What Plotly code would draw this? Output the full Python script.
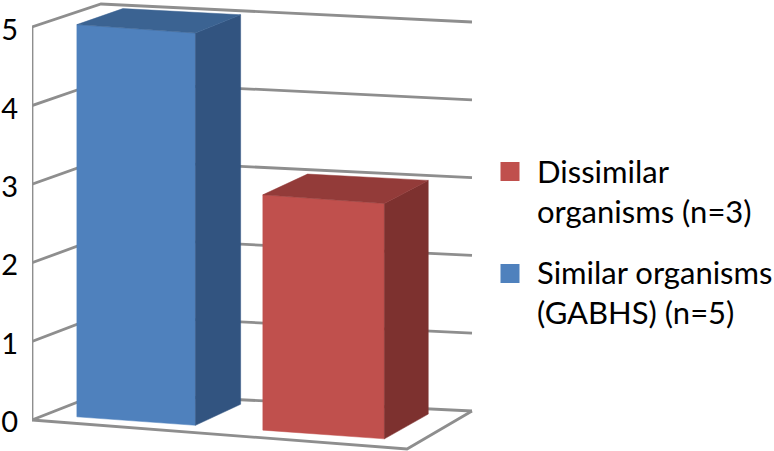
import plotly.graph_objects as go

# --- data ---
series_names = ["Similar organisms (GABHS) (n=5)", "Dissimilar organisms (n=3)"]
series_values = [5, 3]
legend_labels = ["Dissimilar<br>organisms (n=3)", "Similar organisms<br>(GABHS) (n=5)"]
tick_values = [0, 1, 2, 3, 4, 5]
front_colors = ["#4F81BD", "#C0504D"]
side_colors = ["#325480", "#7D312F"]
top_colors = ["#3B6392", "#933B39"]
grid_color = "#8E8E8E"
font = "Lato, Carlito, Calibri, sans-serif"

# --- oblique projection of the floor plane, depth u (across) / v (front to back) ---
F0, F1, B0, B1 = (32, 420), (407, 449), (101, 393), (472, 411)
UNIT = 78.4
bar_u = [(0.083, 0.40), (0.58, 0.905)]
bar_v = (0.2, 0.87)


def project(u, v, z):
    fx, fy = F0[0] + u * (F1[0] - F0[0]), F0[1] + u * (F1[1] - F0[1])
    bx, by = B0[0] + u * (B1[0] - B0[0]), B0[1] + u * (B1[1] - B0[1])
    x = fx + v * (bx - fx)
    floor = fy + v * (by - fy)
    scale = 78.6 - 0.8 * v
    # y is returned in value units, matching the value axis
    return x, (F0[1] - floor + z * scale) / UNIT


def path(points):
    xy = [project(*p) for p in points]
    return [p[0] for p in xy], [p[1] for p in xy]


fig = go.Figure()


def grid(points):
    x, y = path(points)
    fig.add_trace(go.Scatter(x=x, y=y, mode="lines", hoverinfo="skip", showlegend=False,
                             line=dict(color=grid_color, width=2.8)))


for z in tick_values:
    grid([(0, 0, z), (0, 1, z), (1, 1, z)])
grid([(0, 0, 0), (0, 0, tick_values[-1])])
grid([(0, 0, 0), (1, 0, 0), (1, 1, 0)])


def face(points, color, name):
    x, y = path(points)
    fig.add_trace(go.Scatter(x=x, y=y, mode="lines", fill="toself", fillcolor=color, name=name,
                             line=dict(width=0.5, color=color), showlegend=False))


for i, val in enumerate(series_values):
    u0, u1 = bar_u[i]
    v0, v1 = bar_v
    name = series_names[i]
    face([(u0, v0, 0), (u1, v0, 0), (u1, v0, val), (u0, v0, val), (u0, v0, 0)], front_colors[i], name)
    face([(u1, v0, 0), (u1, v1, 0), (u1, v1, val), (u1, v0, val), (u1, v0, 0)], side_colors[i], name)
    face([(u0, v0, val), (u1, v0, val), (u1, v1, val), (u0, v1, val), (u0, v0, val)], top_colors[i], name)

# --- legend (swatch level with the first text line, as in the original) ---
legend_swatch_x = 510
legend_swatch_y = [(F0[1] - 171.5) / UNIT, (F0[1] - 273.5) / UNIT]
legend_colors = [front_colors[1], front_colors[0]]
fig.add_trace(go.Scatter(x=[legend_swatch_x] * 2, y=legend_swatch_y, mode="markers", showlegend=False,
                         hoverinfo="skip", marker=dict(symbol="square", size=19, color=legend_colors)))
legend_text_y = [(F0[1] - 191) / UNIT, (F0[1] - 292) / UNIT]
for t, y in zip(legend_labels, legend_text_y):
    fig.add_annotation(x=537, y=y, text=t, showarrow=False, xanchor="left", yanchor="middle", align="left",
                       xshift=-2, font=dict(family=font, size=31, color="#000000"))

fig.update_layout(
    width=774, height=451,
    margin=dict(l=32, r=0, t=0, b=0, autoexpand=False),
    paper_bgcolor="#FFFFFF", plot_bgcolor="#FFFFFF",
    showlegend=False,
    xaxis=dict(range=[32, 774], visible=False, fixedrange=True, automargin=False),
    yaxis=dict(range=[(F0[1] - 451) / UNIT, F0[1] / UNIT], tickvals=tick_values, showgrid=False, zeroline=False,
               showline=False, ticks="outside", ticklen=7, tickcolor="rgba(0,0,0,0)", automargin=False,
               tickfont=dict(family=font, size=29, color="#000000"), fixedrange=True, ticklabelshift=2),
)
fig.write_html("out.html", config=dict(displayModeBar=False),
               post_script="document.body.style.margin='0';document.body.style.overflow='hidden';")
